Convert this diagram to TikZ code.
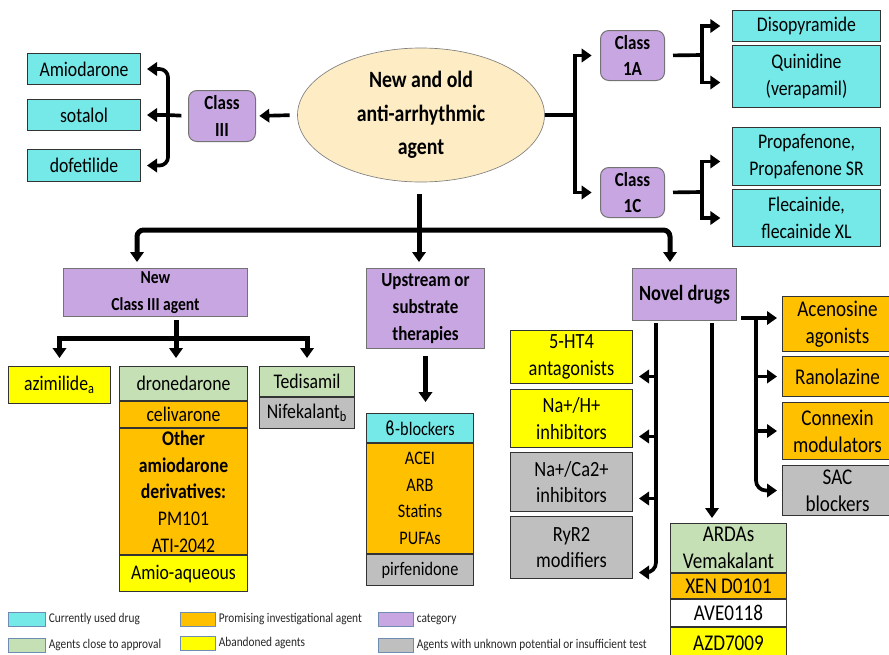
\documentclass[tikz,border=0pt]{standalone}
\usepackage{fontspec}
\setmainfont{Carlito}[FakeStretch=0.85]
\newfontfamily\greekfont{DejaVu Sans}[FakeStretch=0.85]
\usetikzlibrary{positioning,shapes.geometric,arrows.meta}
\definecolor{drugCyan}{RGB}{117,232,232}
\definecolor{catPurple}{RGB}{200,166,226}
\definecolor{nearGreen}{RGB}{197,224,180}
\definecolor{promOrange}{RGB}{255,192,0}
\definecolor{abanYellow}{RGB}{255,255,0}
\definecolor{unknGray}{RGB}{191,191,191}
\definecolor{agentFill}{RGB}{253,236,196}
\definecolor{keyEdge}{RGB}{110,140,180}

\begin{document}
\begin{tikzpicture}[x=0.6pt, y=-0.6pt,
    box/.style={draw=black!80, line width=0.6pt, inner sep=0.5pt, align=center, anchor=north west, font=\fontsize{12.5}{16}\selectfont},
    sz/.style 2 args={minimum width=#1*0.6pt, minimum height=#2*0.6pt},
    cur/.style={box, fill=drugCyan},
    near/.style={box, fill=nearGreen},
    prom/.style={box, fill=promOrange},
    aban/.style={box, fill=abanYellow},
    unkn/.style={box, fill=unknGray},
    cat/.style={box, fill=catPurple, draw=black!55, font=\bfseries\fontsize{12}{16}\selectfont},
    key/.style={draw=keyEdge, line width=0.6pt, inner sep=0pt, anchor=north west},
    keytext/.style={font=\fontsize{8}{9}\selectfont, inner sep=0.5pt, text=black!85},
    link/.style={line width=2.2pt},
    bar/.style={line width=3pt},
    arr/.style={-{Triangle[width=8pt,length=6pt]}}]
    \useasboundingbox (0,0) rectangle (889,654);

    % Main agent
    \node[ellipse, draw=black!50, fill=agentFill, inner sep=0pt, sz={247}{134}, align=center, font=\bfseries\fontsize{14}{20}\selectfont] (agent) at (421,115) {New and old\\anti-arrhythmic\\agent};

    % Class III (left)
    \node[cat, rounded corners=5pt, sz={67}{51}] (c3) at (188,90) {Class\\III};
    \node[cur, sz={113}{31}] (amio) at (27,53) {Amiodarone};
    \node[cur, sz={113}{31}] (sota) at (27,99) {sotalol};
    \node[cur, sz={113}{32}] (dofe) at (27,149) {dofetilide};

    % Class 1A / 1C (right)
    \node[cat, rounded corners=5pt, sz={64}{50}] (c1a) at (600,30) {Class\\1A};
    \node[cat, rounded corners=5pt, sz={64}{50}] (c1c) at (600,167) {Class\\1C};
    \node[cur, sz={148}{31}] (diso) at (732,10) {Disopyramide};
    \node[cur, sz={148}{62}] (quin) at (732,45) {Quinidine\\(verapamil)};
    \node[cur, sz={148}{58}] (prop) at (732,127) {Propafenone,\\Propafenone SR};
    \node[cur, sz={148}{57}] (flec) at (732,189) {Flecainide,\\flecainide XL};

    % Categories
    \node[cat, font=\bfseries\fontsize{11}{16}\selectfont, sz={184}{48}] (nc3) at (63,268) {New\\Class III agent};
    \node[cat, sz={118}{80}] (ups) at (366,268) {Upstream or\\substrate\\therapies};
    \node[cat, font=\bfseries\fontsize{13}{16}\selectfont, sz={104}{52}] (nov) at (632,268) {Novel drugs};

    % New Class III agents
    \node[aban, sz={102}{37}] (azim) at (8,366) {azimilide\textsubscript{a}};
    \node[near, sz={128}{34}] (dron) at (119,366) {dronedarone};
    \node[prom, sz={128}{26}, below=0pt of dron] (celi) {celivarone};
    \node[prom, inner sep=0pt, sz={128}{126}, below=0pt of celi] (othr) {\textbf{Other}\\\textbf{amiodarone}\\\textbf{derivatives:}\\PM101\\ATI-2042};
    \node[aban, sz={128}{36}, below=0pt of othr] (aqua) {Amio-aqueous};
    \node[near, sz={95}{30}] (tedi) at (259,366) {Tedisamil};
    \node[unkn, sz={95}{31}, below=0pt of tedi] (nife) {Nifekalant\textsubscript{b}};

    % Upstream therapies
    \node[cur, font=\fontsize{11.5}{16}\selectfont, sz={107}{29}] (beta) at (366,413) {{\greekfont ϐ}-blockers};
    \node[prom, font=\fontsize{11.5}{16}\selectfont, sz={107}{110}, below=0pt of beta] (acei) {ACEI\\ARB\\Statins\\PUFAs};
    \node[unkn, font=\fontsize{11.5}{16}\selectfont, sz={107}{31}, below=0pt of acei] (pirf) {pirfenidone};

    % Novel drugs
    \node[aban, font=\fontsize{13}{16}\selectfont, sz={122}{53}] (ht4) at (510,330) {5-HT4\\antagonists};
    \node[aban, font=\fontsize{13}{16}\selectfont, sz={122}{58}] (nah) at (510,389) {Na+/H+\\inhibitors};
    \node[unkn, font=\fontsize{13}{16}\selectfont, sz={122}{59}] (naca) at (510,452) {Na+/Ca2+\\inhibitors};
    \node[unkn, font=\fontsize{13}{16}\selectfont, sz={122}{62}] (ryr) at (510,516) {RyR2\\modifiers};
    \node[prom, font=\fontsize{13.5}{16}\selectfont, sz={110}{55}] (aden) at (782,296) {Acenosine\\agonists};
    \node[prom, font=\fontsize{13.5}{16}\selectfont, sz={110}{40}] (rano) at (782,356) {Ranolazine};
    \node[prom, font=\fontsize{13.5}{16}\selectfont, sz={110}{57}] (conx) at (782,402) {Connexin\\modulators};
    \node[unkn, font=\fontsize{13.5}{16}\selectfont, sz={110}{50}] (sac) at (782,465) {SAC\\blockers};
    \node[near, font=\fontsize{13.5}{16}\selectfont, sz={116}{49}] (arda) at (670,523) {ARDAs\\Vemakalant};
    \node[prom, font=\fontsize{13.5}{16}\selectfont, sz={116}{25}, below=0pt of arda] (xen) {XEN D0101};
    \node[box, fill=white, font=\fontsize{13.5}{16}\selectfont, sz={116}{27}, below=0pt of xen] (ave) {AVE0118};
    \node[aban, font=\fontsize{13.5}{16}\selectfont, sz={116}{32}, below=0pt of ave] (azd) {AZD7009};

    % Junctions
    \coordinate (lj) at (168,115);
    \coordinate (rj) at (575,115);
    \coordinate (aj) at (702,55);
    \coordinate (cj) at (702,192);
    \coordinate (mj) at (419,230);
    \coordinate (lbar) at (137,230);
    \coordinate (rbar) at (670,230);
    \coordinate (nj) at (176,338);
    \coordinate (ntl) at (656,323);
    \coordinate (ntm) at (712,323);
    \coordinate (ntr) at (741,318);
    \coordinate (ntk) at (756,318);

    % Connections: Class III
    \draw[link, arr, shorten <=4.5pt, shorten >=2pt] (agent.west) -- (c3.east);
    \draw[link, shorten <=4pt] (c3.west) -- (lj);
    \draw[link, arr, rounded corners=5pt, shorten >=3.6pt] (lj) |- (amio.east);
    \draw[link, arr, shorten >=3.6pt] (lj) -- (sota.east);
    \draw[link, arr, rounded corners=5pt, shorten >=3.6pt] (lj) |- (dofe.east);

    % Connections: Class 1A / 1C
    \draw[link] (agent.east) -- (rj);
    \draw[link, arr, shorten >=5pt] (rj) |- (c1a.west);
    \draw[link, arr, shorten >=5pt] (rj) |- (c1c.west);
    \draw[link, shorten <=4.8pt] (c1a.east) -- (aj);
    \draw[link, arr, shorten >=7pt] (aj) |- (diso.west);
    \draw[link, arr, shorten >=7pt] (aj) |- ([yshift=-3.6pt]quin.west);
    \draw[link, shorten <=4.8pt] (c1c.east) -- (cj);
    \draw[link, arr, shorten >=7pt] (cj) |- ([yshift=-3pt]prop.west);
    \draw[link, arr, shorten >=7pt] (cj) |- (flec.west);

    % Connections: main branches
    \draw[bar, arr, shorten <=7pt, shorten >=3.6pt] (mj |- agent.south) -- (mj |- ups.north);
    \draw[bar, arr, rounded corners=4pt, shorten >=3.6pt] (mj) -| (lbar |- nc3.north);
    \draw[bar, arr, rounded corners=4pt, shorten >=3.6pt] (mj) -| (rbar |- nov.north);

    % Connections: New Class III agent
    \draw[bar, shorten <=2pt] (nj |- nc3.south) -- (nj);
    \draw[bar, arr, shorten >=4.8pt] (nj) -| (azim.north);
    \draw[bar, arr, shorten >=4.8pt] (nj) -- (nj |- dron.north);
    \draw[bar, arr, shorten >=4.8pt] (nj) -| (tedi.north);

    % Connections: Upstream
    \draw[bar, arr, shorten <=4pt, shorten >=6.6pt] (ups.south) -- (ups.south |- beta.north);

    % Connections: Novel drugs
    \draw[link, arr, shorten >=3.6pt] (ntl) |- ([yshift=-11.7pt]ht4.east);
    \draw[link, arr, shorten >=3.6pt] (ntl) |- ([yshift=-10.8pt]nah.east);
    \draw[link, arr, shorten >=3.6pt] (ntl) |- ([yshift=-9.9pt]naca.east);
    \draw[link, arr, rounded corners=6pt, shorten >=3.6pt] (ntl) |- ([yshift=-15pt]ryr.east);
    \draw[link, arr, shorten >=3pt] (ntm) -- (ntm |- arda.north);
    \draw[link, arr, shorten >=3pt] (ntr) -- (ntr -| aden.west);
    \draw[link, arr, shorten >=3pt] (ntk) |- (rano.west);
    \draw[link, arr, shorten >=3pt] (ntk) |- (conx.west);
    \draw[link, arr, rounded corners=6pt, shorten >=3pt] (ntk) |- (sac.west);

    % Legend
    \node[key, fill=drugCyan, sz={37}{14}] (k1) at (8,612) {};
    \node[keytext, right=1pt of k1] (t1) {Currently used drug};
    \node[key, fill=nearGreen, sz={37}{14}] (k2) at (8,638) {};
    \node[keytext, right=1pt of k2] (t2) {Agents close to approval};
    \node[key, fill=promOrange, sz={35}{14}] (k3) at (180,612) {};
    \node[keytext, right=1pt of k3] (t3) {Promising investigational agent};
    \node[key, fill=abanYellow, sz={35}{14}] (k4) at (180,636) {};
    \node[keytext, right=1pt of k4] (t4) {Abandoned agents};
    \node[key, fill=catPurple, sz={35}{14}] (k5) at (378,612) {};
    \node[keytext, right=1pt of k5] (t5) {category};
    \node[key, fill=unknGray, sz={35}{14}] (k6) at (378,638) {};
    \node[keytext, right=1pt of k6] (t6) {Agents with unknown potential or insufficient test};
\end{tikzpicture}
\end{document}
